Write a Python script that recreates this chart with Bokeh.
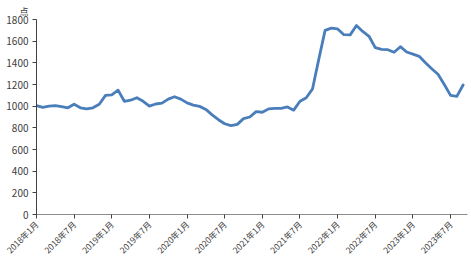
import math
from bokeh.plotting import figure
from bokeh.models import FixedTicker, Range1d, Title
from bokeh.embed import file_html
from bokeh.resources import INLINE

# month index 0 = 2018年1月
months = list(range(69))
values = [1005, 988, 1000, 1005, 995, 985, 1018, 985, 975, 985,
          1018, 1100, 1105, 1148, 1045, 1055, 1078, 1045, 1000, 1020,
          1028, 1065, 1087, 1065, 1030, 1010, 998, 970, 920, 875,
          838, 820, 832, 885, 900, 950, 944, 975, 979, 980,
          993, 963, 1045, 1078, 1160, 1434, 1700, 1720, 1713, 1660,
          1658, 1744, 1690, 1645, 1540, 1525, 1521, 1497, 1549, 1500,
          1480, 1460, 1400, 1345, 1295, 1200, 1100, 1090, 1195]
tick_months = [0, 6, 12, 18, 24, 30, 36, 42, 48, 54, 60, 66]
tick_labels = ["2018年1月", "2018年7月", "2019年1月", "2019年7月", "2020年1月", "2020年7月",
               "2021年1月", "2021年7月", "2022年1月", "2022年7月", "2023年1月", "2023年7月"]
y_ticks = [0, 200, 400, 600, 800, 1000, 1200, 1400, 1600, 1800]
unit = "点"

FONT = "Noto Sans CJK SC"

p = figure(width=471, height=266, output_backend="svg", toolbar_location=None,
           x_range=Range1d(0, 68.7), y_range=Range1d(0, 1800),
           min_border_left=36, min_border_right=4, min_border_top=4, min_border_bottom=52)
p.outline_line_color = None
p.grid.grid_line_color = None
p.background_fill_color = "white"
p.border_fill_color = "white"

p.add_layout(Title(text=unit, align="left", offset=-17, standoff=4,
                   text_font=FONT, text_font_size="9px", text_font_style="normal",
                   text_color="#404040"), "above")

p.line(months, values, line_color="#4A7EBB", line_width=2.8, line_join="round", line_cap="round")

xa = p.xaxis[0]
xa.ticker = FixedTicker(ticks=tick_months)
xa.major_label_overrides = {m: l for m, l in zip(tick_months, tick_labels)}
xa.major_label_orientation = math.pi / 4
xa.major_label_text_font = FONT
xa.major_label_text_font_size = "8.5px"
xa.major_label_text_color = "#404040"
xa.axis_line_color = "#8c8c8c"
xa.major_tick_line_color = "#404040"
xa.major_tick_in = 0
xa.major_tick_out = 4
xa.minor_tick_line_color = None
xa.major_label_standoff = 4

ya = p.yaxis[0]
ya.ticker = FixedTicker(ticks=y_ticks)
ya.major_label_text_font = FONT
ya.major_label_text_font_size = "10px"
ya.major_label_text_color = "#404040"
ya.axis_line_color = "#404040"
ya.major_tick_line_color = "#404040"
ya.major_tick_in = 0
ya.major_tick_out = 4
ya.minor_tick_line_color = None
ya.major_label_standoff = 4

open("out.html", "w").write(file_html(p, INLINE))
